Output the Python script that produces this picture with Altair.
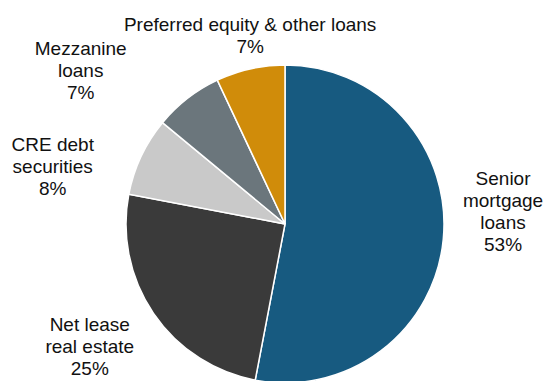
import altair as alt
import pandas as pd

categories = ["Senior mortgage loans", "Net lease real estate", "CRE debt securities",
              "Mezzanine loans", "Preferred equity & other loans"]
values = [53, 25, 8, 7, 7]
label_lines = [["Senior", "mortgage", "loans", "53%"],
               ["Net lease", "real estate", "25%"],
               ["CRE debt", "securities", "8%"],
               ["Mezzanine", "loans", "7%"],
               ["Preferred equity & other loans", "7%"]]
colors = ["#175a80", "#3a3a3a", "#c9c9c9", "#6b767c", "#d08c0a"]

df = pd.DataFrame({
    "cat": categories,
    "value": values,
    "order": list(range(len(categories))),
    "label": label_lines,
})

CX, CY, R = 285, 224, 159
theta_scale = alt.Scale(domain=[0, 100], range=[0, 6.283185307179586])

base = alt.Chart(df).transform_stack(
    stack="value", groupby=[], as_=["v0", "v1"],
    sort=[alt.SortField("order", order="ascending")],
).transform_calculate(mid="(datum.v0 + datum.v1) / 2")

arcs = base.mark_arc(radius=R, stroke="white", strokeWidth=1.5).encode(
    theta=alt.Theta("v0:Q", scale=theta_scale),
    theta2="v1:Q",
    color=alt.Color("cat:N", scale=alt.Scale(domain=categories, range=colors), legend=None),
    x=alt.value(CX), y=alt.value(CY),
)

# per-label placement: (radius, dx, dy)
placements = {
    "Senior mortgage loans": (218, 1, -66),
    "Net lease real estate": (230, -5, -28),
    "CRE debt securities": (239, -16, 23),
    "Mezzanine loans": (255, -48, 26),
    "Preferred equity & other loans": (192, 7, -12),
}

layers = [arcs]
for cat, (r, dx, dy) in placements.items():
    t = base.transform_filter(alt.datum.cat == cat).mark_text(
        radius=r, dx=dx, dy=dy, font="Liberation Sans", fontSize=19,
        lineHeight=22, align="center", baseline="middle", color="#111111",
    ).encode(
        theta=alt.Theta("mid:Q", scale=theta_scale),
        text="label",
        x=alt.value(CX), y=alt.value(CY),
    )
    layers.append(t)

chart = alt.layer(*layers).properties(
    width=544, height=381, background="white",
    autosize=alt.AutoSizeParams(type="none"), padding=0,
).configure_view(stroke=None)

chart.save("out.html", embed_options={"renderer": "svg", "actions": False})
